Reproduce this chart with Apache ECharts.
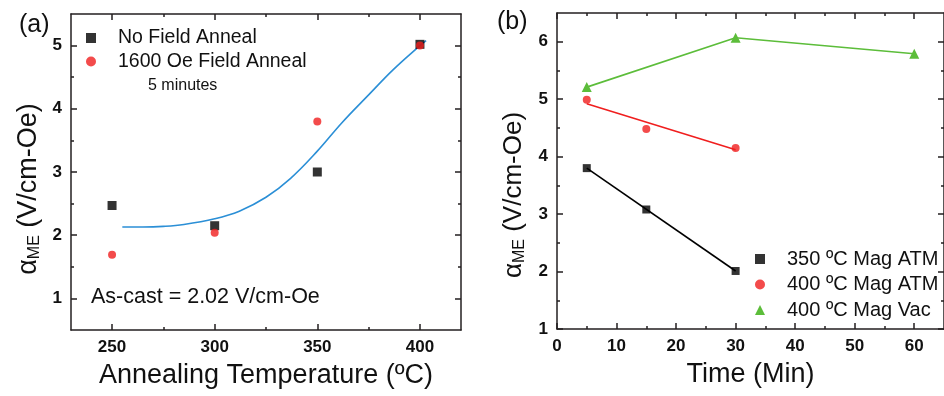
<!DOCTYPE html>
<html>
<head>
<meta charset="utf-8">
<script src="https://cdn.jsdelivr.net/npm/echarts@6/dist/echarts.min.js"></script>
<style>html,body{margin:0;padding:0;background:#fff;}#c{width:944px;height:396px;}</style>
</head>
<body>
<div id="c"></div>
<script>
// ---- Panel (a) data ----
const tempCats = [250, 300, 350, 400];
const noFieldVals = [2.47, 2.15, 3.0, 5.02];
const fieldVals = [1.69, 2.04, 3.8, 5.0];
const fitTemp = [255, 265, 275, 285, 300, 312, 325, 337, 350, 362, 375, 387, 400, 403];
const fitVals = [2.13, 2.13, 2.14, 2.17, 2.26, 2.38, 2.6, 2.9, 3.33, 3.78, 4.22, 4.62, 5.0, 5.08];
const aXMajor = [250, 300, 350, 400];
const aXMinor = [275, 325, 375];
const aYMajor = [1, 2, 3, 4, 5];
const aYMinor = [1.5, 2.5, 3.5, 4.5];

// ---- Panel (b) data ----
const atmTime = [5, 15, 30];
const atm350Vals = [3.8, 3.08, 2.01];
const atm400Vals = [4.99, 4.48, 4.15];
const fit350Time = [5, 30];
const fit350Vals = [3.8, 2.01];
const fit400Time = [5, 30];
const fit400Vals = [4.92, 4.12];
const vacTime = [5, 30, 60];
const vacVals = [5.21, 6.07, 5.79];
const bXMajor = [0, 10, 20, 30, 40, 50, 60];
const bXMinor = [5, 15, 25, 35, 45, 55];
const bYMajor = [1, 2, 3, 4, 5, 6];
const bYMinor = [1.5, 2.5, 3.5, 4.5, 5.5];

const AX = '#231f20';
const FONT = 'Liberation Sans, Arial, sans-serif';

function pairs(xs, ys) { return xs.map((x, i) => [x, ys[i]]); }

function axisPair(gridIndex, pos, min, max, majors, minors, showLabel, name, nameGap) {
  const major = {
    gridIndex, type: 'value', min, max, position: pos,
    axisLine: { show: true, onZero: false, lineStyle: { color: AX, width: 1.5 } },
    axisTick: { show: true, inside: true, length: 6, customValues: majors, lineStyle: { color: AX, width: 1.5 } },
    axisLabel: { show: showLabel, customValues: majors, color: '#111', fontFamily: FONT, fontWeight: 'bold', fontSize: 17, margin: 9 },
    splitLine: { show: false }
  };
  if (name) {
    major.name = name;
    major.nameLocation = 'middle';
    major.nameGap = nameGap;
  }
  const minor = {
    gridIndex, type: 'value', min, max, position: pos,
    axisLine: { show: false, onZero: false },
    axisTick: { show: true, inside: true, length: 3, customValues: minors, lineStyle: { color: AX, width: 1.5 } },
    axisLabel: { show: false },
    splitLine: { show: false }
  };
  return [major, minor];
}

const titleStyle = { color: '#111', fontFamily: FONT, fontSize: 27 };
function yTitleRich(size) {
  return {
    a: { fontFamily: FONT, fontSize: size, color: '#111' },
    s: { fontFamily: FONT, fontSize: 16, color: '#111', padding: [12, 0, 0, 0] },
    b: { fontFamily: FONT, fontSize: size, color: '#111' }
  };
}
const yTitleText = '{a|α}{s|ME}{b| (V/cm-Oe)}';

const ax0b = axisPair(0, 'bottom', 230, 420, aXMajor, aXMinor, true, 'Annealing Temperature (ºC)', 32);
ax0b[0].nameTextStyle = titleStyle;
const ax0t = axisPair(0, 'top', 230, 420, aXMajor, aXMinor, false);
const ax1b = axisPair(1, 'bottom', 0, 65, bXMajor, bXMinor, true, 'Time (Min)', 32);
ax1b[0].nameTextStyle = titleStyle;
const ax1t = axisPair(1, 'top', 0, 65, bXMajor, bXMinor, false);

const ay0l = axisPair(0, 'left', 0.5, 5.5, aYMajor, aYMinor, true, yTitleText, 28);
ay0l[0].nameTextStyle = { rich: yTitleRich(27), padding: [0, 34, 0, 0] };
const ay0r = axisPair(0, 'right', 0.5, 5.5, aYMajor, aYMinor, false);
const ay1l = axisPair(1, 'left', 1, 6.5, bYMajor, bYMinor, true, yTitleText, 29);
ay1l[0].nameTextStyle = { rich: yTitleRich(26), padding: [0, 48, 0, 0] };
const ay1r = axisPair(1, 'right', 1, 6.5, bYMajor, bYMinor, false);

const RED = '#f01e1e';
const GREEN = '#5cbd3a';
const BLUE = '#2b8fd6';

const legendText = (size) => ({ fontFamily: FONT, fontSize: size, lineHeight: 20, color: '#111', padding: [0, 0, 0, 17] });

const option = {
  animation: false,
  backgroundColor: '#fff',
  grid: [
    { left: 71, top: 14, width: 390, height: 316 },
    { left: 557, top: 13, width: 390, height: 316 }
  ],
  xAxis: [...ax0b, ...ax0t, ...ax1b, ...ax1t],
  yAxis: [...ay0l, ...ay0r, ...ay1l, ...ay1r],
  legend: [
    {
      left: 81, top: 23, orient: 'vertical', itemGap: 3.5, itemWidth: 10, itemHeight: 10,
      textStyle: legendText(19.5),
      data: [{ name: 'No Field Anneal', icon: 'rect' }, { name: '1600 Oe Field Anneal', icon: 'circle' }]
    },
    {
      left: 750, top: 244, orient: 'vertical', itemGap: 5.5, itemWidth: 10, itemHeight: 10,
      textStyle: legendText(20),
      data: [{ name: '350 ºC Mag ATM', icon: 'rect' }, { name: '400 ºC Mag ATM', icon: 'circle' }, { name: '400 ºC Mag Vac', icon: 'triangle' }]
    }
  ],
  graphic: [
    { type: 'text', left: 19, top: 13, style: { text: '(a)', fontFamily: FONT, fontSize: 25, fill: '#111' } },
    { type: 'text', left: 497, top: 10, style: { text: '(b)', fontFamily: FONT, fontSize: 25, fill: '#111' } },
    { type: 'text', left: 91, top: 286, style: { text: 'As-cast = 2.02 V/cm-Oe', fontFamily: FONT, fontSize: 21.5, fill: '#111' } },
    { type: 'text', left: 148, top: 78, style: { text: '5 minutes', fontFamily: FONT, fontSize: 16, fill: '#111' } }
  ],
  series: [
    { name: 'fitA', type: 'line', xAxisIndex: 0, yAxisIndex: 0, data: pairs(fitTemp, fitVals), smooth: 0.4, showSymbol: false, lineStyle: { color: BLUE, width: 1.6 }, z: 1 },
    { name: 'No Field Anneal', type: 'scatter', xAxisIndex: 0, yAxisIndex: 0, data: pairs(tempCats, noFieldVals), symbol: 'rect', symbolSize: 9, itemStyle: { color: '#000' }, z: 3 },
    { name: '1600 Oe Field Anneal', type: 'scatter', xAxisIndex: 0, yAxisIndex: 0, data: pairs(tempCats, fieldVals), symbol: 'circle', symbolSize: 8, itemStyle: { color: RED }, z: 4 },

    { name: 'fit350', type: 'line', xAxisIndex: 4, yAxisIndex: 4, data: pairs(fit350Time, fit350Vals), showSymbol: false, lineStyle: { color: '#000', width: 1.6 } },
    { name: '350 ºC Mag ATM', type: 'scatter', xAxisIndex: 4, yAxisIndex: 4, data: pairs(atmTime, atm350Vals), symbol: 'rect', symbolSize: 8, itemStyle: { color: '#000' } },
    { name: 'fit400', type: 'line', xAxisIndex: 4, yAxisIndex: 4, data: pairs(fit400Time, fit400Vals), showSymbol: false, lineStyle: { color: RED, width: 1.6 } },
    { name: '400 ºC Mag ATM', type: 'scatter', xAxisIndex: 4, yAxisIndex: 4, data: pairs(atmTime, atm400Vals), symbol: 'circle', symbolSize: 8, itemStyle: { color: RED } },
    { name: '400 ºC Mag Vac', type: 'line', xAxisIndex: 4, yAxisIndex: 4, data: pairs(vacTime, vacVals), symbol: 'triangle', symbolSize: 10, showAllSymbol: true, lineStyle: { color: GREEN, width: 1.6 }, itemStyle: { color: GREEN } }
  ]
};

const chart = echarts.init(document.getElementById('c'), null, { renderer: 'canvas' });
chart.setOption(option);
</script>
</body>
</html>
